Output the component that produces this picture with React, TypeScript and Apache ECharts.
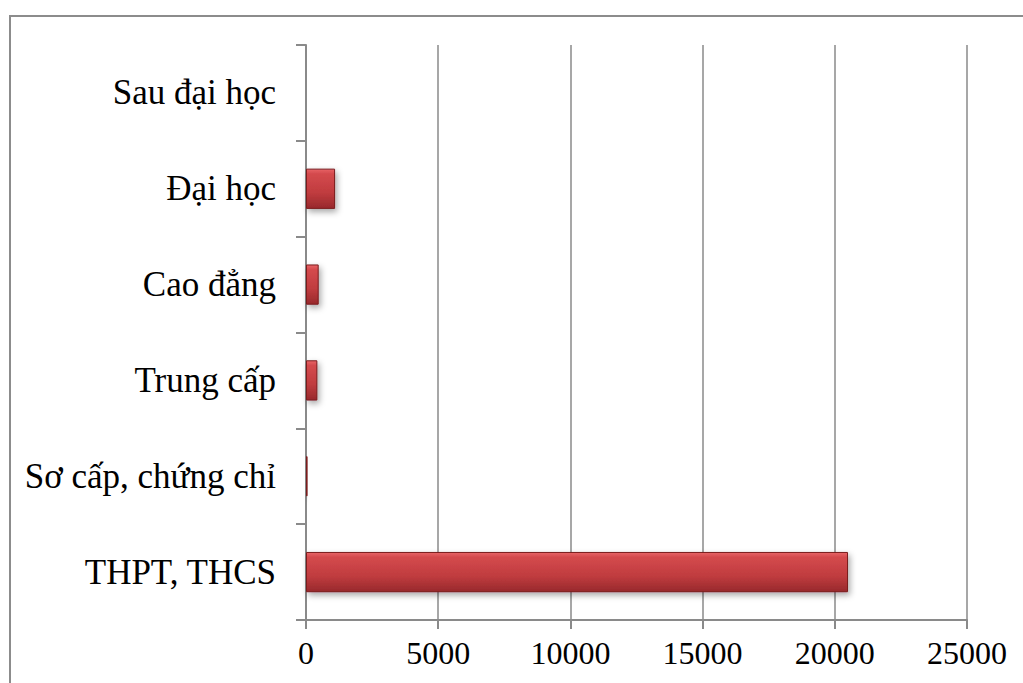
import React, { useEffect, useRef } from "react";
import * as echarts from "echarts";

const categories = ["Sau đại học", "Đại học", "Cao đẳng", "Trung cấp", "Sơ cấp, chứng chỉ", "THPT, THCS"];
const values = [30, 1100, 480, 430, 60, 20500];
const xTicks = { min: 0, max: 25000, interval: 5000 };

export default function App() {
  const ref = useRef<HTMLDivElement>(null);
  useEffect(() => {
    if (!ref.current) return;
    const chart = echarts.init(ref.current, null, { renderer: "svg" });
    const font = "'Liberation Serif', 'Times New Roman', serif";
    const gray = "#8a8a8a";
    chart.setOption({
      animation: false,
      backgroundColor: "#ffffff",
      graphic: [
        {
          type: "rect",
          shape: { x: 10, y: 16, width: 1100, height: 800 },
          style: { fill: "none", stroke: "#8c8c8c", lineWidth: 2 },
          z: -1,
        },
      ],
      grid: { left: 306, right: 56, top: 45, bottom: 63, containLabel: false },
      xAxis: {
        type: "value",
        min: xTicks.min,
        max: xTicks.max,
        interval: xTicks.interval,
        axisLine: { show: true, lineStyle: { color: gray, width: 2 } },
        axisTick: { show: true, length: 9, lineStyle: { color: gray, width: 2 } },
        splitLine: { show: true, lineStyle: { color: gray, width: 1.5 } },
        axisLabel: {
          color: "#000",
          fontFamily: font,
          fontSize: 32,
          margin: 17,
          formatter: (v: number) => String(v),
        },
      },
      yAxis: {
        type: "category",
        data: categories,
        inverse: true,
        axisLine: { show: true, lineStyle: { color: gray, width: 2 } },
        axisTick: { show: true, length: 10, alignWithLabel: false, lineStyle: { color: gray, width: 2 } },
        axisLabel: { color: "#000", fontFamily: font, fontSize: 35, margin: 30 },
        splitLine: { show: false },
      },
      series: [
        {
          type: "bar",
          data: values,
          barWidth: "42%",
          barMinHeight: 1,
          itemStyle: {
            color: new echarts.graphic.LinearGradient(0, 0, 0, 1, [
              { offset: 0, color: "#e86466" },
              { offset: 0.12, color: "#d44a4d" },
              { offset: 0.6, color: "#c03c3f" },
              { offset: 1, color: "#98292c" },
            ]),
            borderColor: "#7a1c1e",
            borderWidth: 1,
            shadowColor: "rgba(0,0,0,0.35)",
            shadowBlur: 6,
            shadowOffsetX: 2,
            shadowOffsetY: 3,
          },
        },
      ],
    });
    return () => chart.dispose();
  }, []);
  return (
    <div
      ref={ref}
      style={{ position: "fixed", left: 0, top: 0, width: 1023, height: 683, background: "#fff" }}
    />
  );
}
